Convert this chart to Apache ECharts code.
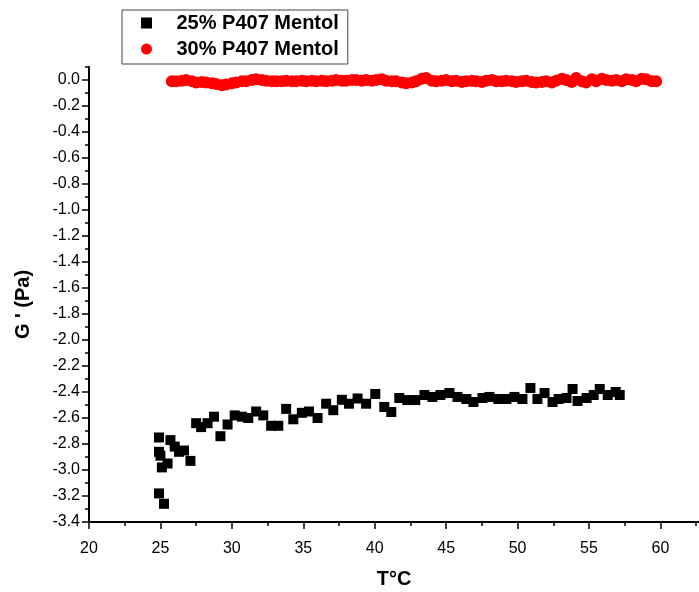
<!DOCTYPE html>
<html>
  <head>
    <meta charset="UTF-8">
    <title>G' vs T</title>
    <script src="https://cdn.jsdelivr.net/npm/echarts@6/dist/echarts.min.js"></script>
    <style>
    * {
      margin: 0;
      padding: 0;
    }
    </style>
  </head>
  <body>
    <div id="main" style="width: 100vw;height: 100vh"></div>
    <script>
// 25% P407 Mentol (squares)
var blackX = [24.9, 24.9, 25.0, 25.1, 25.5, 24.9, 25.25, 25.7, 26.0, 26.3, 26.65, 27.1,
  27.5, 27.85, 28.3, 28.75, 29.2, 29.7, 30.2, 30.7, 31.15, 31.7, 32.2, 32.75, 33.25,
  33.8, 34.3, 34.9, 35.4, 36.0, 36.6, 37.1, 37.7, 38.2, 38.8, 39.4,
  40.04, 40.67, 41.16, 41.72, 42.28, 42.84, 43.48, 44.04, 44.6, 45.23, 45.79, 46.42,
  46.91, 47.54, 48.03, 48.66, 49.22, 49.78, 50.34, 50.9, 51.39, 51.89, 52.45, 52.87,
  53.43, 53.85, 54.2, 54.83, 55.33, 55.75, 56.31, 56.87, 57.15]
var blackY = [-2.75, -2.86, -2.89, -2.98, -2.95, -3.18, -3.26, -2.77, -2.82, -2.86, -2.85, -2.93,
  -2.64, -2.67, -2.64, -2.59, -2.74, -2.65, -2.58, -2.59, -2.60, -2.55, -2.58, -2.66, -2.66,
  -2.53, -2.61, -2.56, -2.55, -2.60, -2.49, -2.54, -2.46, -2.49, -2.45, -2.49,
  -2.415, -2.515, -2.554, -2.446, -2.462, -2.462, -2.423, -2.438, -2.423, -2.408, -2.438, -2.454,
  -2.477, -2.446, -2.438, -2.454, -2.454, -2.438, -2.454, -2.369, -2.454, -2.408, -2.477, -2.454,
  -2.446, -2.377, -2.469, -2.446, -2.423, -2.377, -2.423, -2.40, -2.423]

// 30% P407 Mentol (circles)
var redX = [25.8, 26.1, 26.5, 26.8, 27.2, 27.5, 27.9, 28.2, 28.6, 28.9,
  29.3, 29.6, 30.0, 30.3, 30.7, 31.0, 31.4, 31.7, 32.1, 32.4,
  32.8, 33.1, 33.5, 33.8, 34.2, 34.5, 34.9, 35.2, 35.6, 35.9,
  36.3, 36.6, 37.0, 37.3, 37.7, 38.0, 38.4, 38.7, 39.1, 39.4,
  39.8, 40.1, 40.5, 40.8, 41.2, 41.5, 41.9, 42.2, 42.6, 42.9,
  43.3, 43.6, 44.0, 44.3, 44.7, 45.0, 45.4, 45.7, 46.1, 46.4,
  46.8, 47.1, 47.5, 47.8, 48.2, 48.5, 48.9, 49.2, 49.6, 49.9,
  50.3, 50.6, 51.0, 51.3, 51.7, 52.0, 52.4, 52.7, 53.1, 53.4,
  53.8, 54.1, 54.5, 54.8, 55.2, 55.5, 55.9, 56.2, 56.6, 56.9,
  57.3, 57.6, 58.0, 58.3, 58.7, 59.0, 59.4, 59.7]
var redY = [-0.01, -0.01, -0.005, 0.0, -0.01, -0.02, -0.015, -0.02, -0.025, -0.03,
  -0.04, -0.035, -0.025, -0.02, -0.01, -0.01, 0.0, 0.005, 0.0, -0.005,
  -0.01, -0.01, -0.01, -0.005, -0.01, -0.01, -0.005, -0.01, -0.005, -0.01,
  -0.005, -0.01, -0.005, 0.0, -0.005, -0.005, 0.0, 0.0, -0.005, 0.0,
  -0.005, 0.0, 0.005, -0.005, -0.01, -0.01, -0.02, -0.025, -0.02, -0.01,
  0.01, 0.015, -0.005, -0.01, -0.005, 0.0, -0.01, -0.005, -0.015, -0.01,
  -0.005, -0.01, -0.015, -0.005, 0.0, -0.01, -0.01, -0.005, -0.01, -0.015,
  -0.01, -0.005, -0.015, -0.02, -0.015, -0.01, -0.02, -0.005, 0.01, 0.0,
  -0.015, 0.015, -0.01, -0.02, 0.005, -0.01, 0.01, 0.0, -0.005, 0.0,
  -0.01, 0.005, 0.0, -0.01, 0.01, 0.005, -0.01, -0.01]

var xMajor = [20, 25, 30, 35, 40, 45, 50, 55, 60]
var xMinor = [22.5, 27.5, 32.5, 37.5, 42.5, 47.5, 52.5, 57.5, 62.5]
var yMajor = [-3.4, -3.2, -3.0, -2.8, -2.6, -2.4, -2.2, -2.0, -1.8, -1.6, -1.4, -1.2,
  -1.0, -0.8, -0.6, -0.4, -0.2, 0.0]
var yMinor = [-3.3, -3.1, -2.9, -2.7, -2.5, -2.3, -2.1, -1.9, -1.7, -1.5, -1.3, -1.1,
  -0.9, -0.7, -0.5, -0.3, -0.1, 0.1]

function zip(xs, ys) {
  return xs.map((x, i) => [x, ys[i]])
}

var font = 'Liberation Sans, Arial, sans-serif'
var line = { show: true, onZero: false, lineStyle: { color: '#000', width: 2 } }
var squarePath = 'path://M0,0H10V10H0Z'
var tickStyle = { color: '#000', width: 1.5 }

var myChart = echarts.init(document.getElementById('main'))
myChart.setOption({
  backgroundColor: '#fff',
  animation: false,
  grid: { left: 89, right: 0, top: 67, bottom: 70, containLabel: false, outerBoundsMode: 'none' },
  legend: {
    orient: 'vertical',
    left: 122,
    top: 10,
    padding: [3, 9, 5, 19],
    itemGap: 6,
    itemWidth: 50,
    itemHeight: 11,
    symbolKeepAspect: true,
    borderColor: '#444',
    borderWidth: 1,
    textStyle: { fontFamily: font, fontSize: 20, fontWeight: 'bold', color: '#000' },
    data: ['25% P407 Mentol', '30% P407 Mentol']
  },
  xAxis: [{
    type: 'value',
    min: 20,
    max: 62.7,
    name: 'T°C',
    nameLocation: 'middle',
    nameGap: 47,
    nameTextStyle: { fontFamily: font, fontSize: 20, fontWeight: 'bold', color: '#000' },
    axisLine: line,
    axisTick: { show: true, customValues: xMajor, length: 7, lineStyle: tickStyle },
    axisLabel: { customValues: xMajor, margin: 19, fontFamily: font, fontSize: 16, color: '#000' },
    splitLine: { show: false }
  }, {
    type: 'value',
    min: 20,
    max: 62.7,
    position: 'bottom',
    axisLine: { show: false, onZero: false },
    axisTick: { show: true, customValues: xMinor, length: 4, lineStyle: tickStyle },
    axisLabel: { show: false },
    splitLine: { show: false }
  }],
  yAxis: [{
    type: 'value',
    min: -3.4,
    max: 0.1,
    name: "G ' (Pa)",
    nameLocation: 'middle',
    nameGap: 56,
    nameTextStyle: { fontFamily: font, fontSize: 20, fontWeight: 'bold', color: '#000', padding: [0, 20, 0, 0] },
    axisLine: line,
    axisTick: { show: true, customValues: yMajor, length: 7, lineStyle: tickStyle },
    axisLabel: {
      customValues: yMajor,
      margin: 9,
      fontFamily: font,
      fontSize: 16,
      color: '#000',
      formatter: v => v.toFixed(1)
    },
    splitLine: { show: false }
  }, {
    type: 'value',
    min: -3.4,
    max: 0.1,
    position: 'left',
    axisLine: { show: false, onZero: false },
    axisTick: { show: true, customValues: yMinor, length: 4, lineStyle: tickStyle },
    axisLabel: { show: false },
    splitLine: { show: false }
  }],
  series: [{
    name: '25% P407 Mentol',
    type: 'scatter',
    symbol: squarePath,
    symbolSize: 10,
    itemStyle: { color: '#000', opacity: 1 },
    data: zip(blackX, blackY)
  }, {
    name: '30% P407 Mentol',
    type: 'scatter',
    symbol: 'circle',
    symbolSize: 12,
    itemStyle: { color: '#ff0000', opacity: 1 },
    data: zip(redX, redY)
  }]
})
    </script>
  </body>
</html>
